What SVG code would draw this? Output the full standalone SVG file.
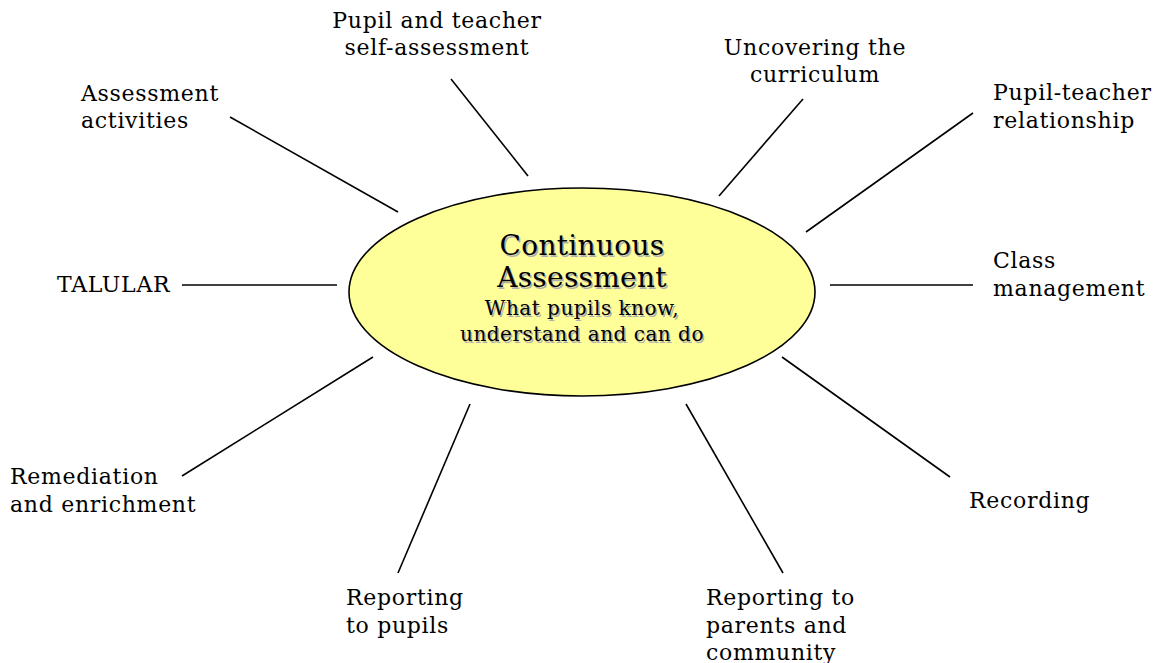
<svg xmlns="http://www.w3.org/2000/svg" width="1153" height="663" viewBox="0 0 1153 663">
<style>
.lbl{font-family:"DejaVu Serif","Liberation Serif",serif;font-size:22px;letter-spacing:0.7px;fill:#000}
.mid{text-anchor:middle}
.ttl{font-family:"DejaVu Serif","Liberation Serif",serif;font-size:28px;letter-spacing:0.3px;text-anchor:middle}
.sub{font-family:"DejaVu Serif","Liberation Serif",serif;font-size:20px;letter-spacing:0.5px;text-anchor:middle}
.sh{fill:#b0b0b0}
#connectors line{stroke:#000;stroke-width:1.6}
</style>
<rect width="1153" height="663" fill="#fff"/>
<g id="connectors">
<line x1="230" y1="117" x2="398" y2="212"/>
<line x1="451" y1="79" x2="528" y2="176"/>
<line x1="803" y1="99" x2="719" y2="196"/>
<line x1="973" y1="113" x2="806" y2="232"/>
<line x1="830" y1="285" x2="973" y2="285"/>
<line x1="782" y1="357" x2="950" y2="477"/>
<line x1="686" y1="404" x2="783" y2="573"/>
<line x1="470" y1="404" x2="398" y2="573"/>
<line x1="373" y1="357" x2="182" y2="476"/>
<line x1="182" y1="285" x2="337" y2="285"/>
</g>
<g id="center">
<ellipse cx="582" cy="292" rx="233" ry="104" fill="#ffff99" stroke="#000" stroke-width="1.6"/>
<g class="sh" transform="translate(1.5,1.5)">
<text class="ttl" x="582" y="255">Continuous</text>
<text class="ttl" x="582" y="287">Assessment</text>
<text class="sub" x="582" y="315">What pupils know,</text>
<text class="sub" x="582" y="341">understand and can do</text>
</g>
<text class="ttl" x="582" y="255">Continuous</text>
<text class="ttl" x="582" y="287">Assessment</text>
<text class="sub" x="582" y="315">What pupils know,</text>
<text class="sub" x="582" y="341">understand and can do</text>
</g>
<g id="n-activities"><text class="lbl" x="81" y="101">Assessment</text><text class="lbl" x="81" y="128">activities</text></g>
<g id="n-self"><text class="lbl mid" x="437" y="28">Pupil and teacher</text><text class="lbl mid" x="437" y="55">self-assessment</text></g>
<g id="n-curriculum"><text class="lbl mid" x="815" y="55">Uncovering the</text><text class="lbl mid" x="815" y="82">curriculum</text></g>
<g id="n-relationship"><text class="lbl" x="993" y="100">Pupil-teacher</text><text class="lbl" x="993" y="128">relationship</text></g>
<g id="n-class"><text class="lbl" x="993" y="268">Class</text><text class="lbl" x="993" y="296">management</text></g>
<g id="n-talular"><text class="lbl" x="57" y="292">TALULAR</text></g>
<g id="n-recording"><text class="lbl" x="969" y="508">Recording</text></g>
<g id="n-remediation"><text class="lbl" x="10" y="484">Remediation</text><text class="lbl" x="10" y="512">and enrichment</text></g>
<g id="n-pupils"><text class="lbl" x="346" y="605">Reporting</text><text class="lbl" x="346" y="633">to pupils</text></g>
<g id="n-parents"><text class="lbl" x="706" y="605">Reporting to</text><text class="lbl" x="706" y="633">parents and</text><text class="lbl" x="706" y="660">community</text></g>
</svg>
